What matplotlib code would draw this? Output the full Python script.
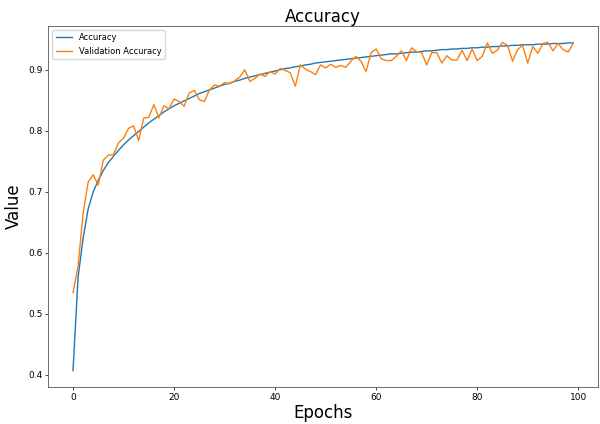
import matplotlib
matplotlib.use('Agg')
import matplotlib.pyplot as plt
import numpy as np

#epoch values
epochs = list(range(100))

accuracy = [0.407, 0.560, 0.624, 0.672, 0.700, 0.719, 0.735, 0.748, 0.758, 0.768,
            0.777, 0.785, 0.792, 0.799, 0.806, 0.813, 0.819, 0.825, 0.831, 0.836,
            0.841, 0.845, 0.849, 0.853, 0.857, 0.861, 0.864, 0.867, 0.870, 0.873,
            0.876, 0.878, 0.881, 0.883, 0.886, 0.888, 0.890, 0.892, 0.894, 0.896,
            0.898, 0.900, 0.902, 0.903, 0.905, 0.906, 0.908, 0.909, 0.911, 0.912,
            0.913, 0.914, 0.915, 0.916, 0.917, 0.918, 0.919, 0.920, 0.921, 0.922,
            0.923, 0.924, 0.925, 0.926, 0.926, 0.927, 0.928, 0.929, 0.929, 0.930,
            0.931, 0.931, 0.932, 0.933, 0.933, 0.934, 0.934, 0.935, 0.935, 0.936,
            0.936, 0.937, 0.937, 0.938, 0.938, 0.939, 0.939, 0.940, 0.940, 0.941,
            0.941, 0.941, 0.942, 0.942, 0.942, 0.943, 0.943, 0.943, 0.944, 0.944]

val_accuracy = [0.535, 0.578, 0.665, 0.716, 0.728, 0.711, 0.752, 0.760, 0.761, 0.780,
                0.788, 0.804, 0.808, 0.784, 0.821, 0.822, 0.843, 0.821, 0.841, 0.836,
                0.852, 0.848, 0.840, 0.862, 0.866, 0.851, 0.848, 0.867, 0.875, 0.873,
                0.879, 0.877, 0.882, 0.888, 0.900, 0.881, 0.886, 0.893, 0.889, 0.897,
                0.893, 0.902, 0.899, 0.895, 0.873, 0.908, 0.901, 0.897, 0.892, 0.908,
                0.903, 0.909, 0.904, 0.907, 0.904, 0.914, 0.922, 0.914, 0.897, 0.928,
                0.934, 0.918, 0.915, 0.915, 0.922, 0.931, 0.915, 0.936, 0.930, 0.928,
                0.908, 0.928, 0.928, 0.911, 0.923, 0.916, 0.916, 0.932, 0.915, 0.934,
                0.915, 0.922, 0.944, 0.927, 0.932, 0.945, 0.940, 0.914, 0.933, 0.940,
                0.911, 0.938, 0.927, 0.943, 0.945, 0.931, 0.943, 0.933, 0.929, 0.943]

fig = plt.figure(figsize=(6, 4.24), dpi=100)
ax = fig.add_axes([0.08, 0.087, 0.917, 0.852])

ax.plot(epochs, accuracy, label='Accuracy', linewidth=1.0)
ax.plot(epochs, val_accuracy, label='Validation Accuracy', linewidth=1.0)

ax.set_title('Accuracy', fontsize=12, pad=3)
ax.set_xlabel('Epochs', fontsize=12, labelpad=2)
ax.set_ylabel('Value', fontsize=12, labelpad=4)
ax.tick_params(labelsize=6.5, length=2, width=0.5, pad=2)
for s in ax.spines.values():
    s.set_linewidth(0.6)
    s.set_color('#555555')
ax.legend(loc='upper left', fontsize=6, handlelength=2.0, borderaxespad=0.5)

fig.savefig('out.png', dpi=100)
